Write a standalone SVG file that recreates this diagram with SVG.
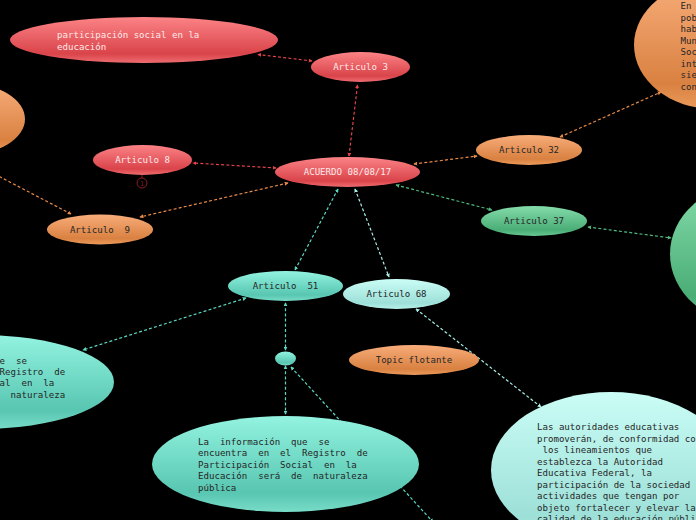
<svg xmlns="http://www.w3.org/2000/svg" width="696" height="520" viewBox="0 0 696 520">
<defs>
<linearGradient id="gRed" x1="0" y1="0" x2="0" y2="1">
<stop offset="0" stop-color="#fb8386"/><stop offset="0.8" stop-color="#d9444a"/><stop offset="1" stop-color="#ef6d71"/>
</linearGradient>
<linearGradient id="gOra" x1="0" y1="0" x2="0" y2="1">
<stop offset="0" stop-color="#f8ad7a"/><stop offset="0.8" stop-color="#d98141"/><stop offset="1" stop-color="#eb9a5c"/>
</linearGradient>
<linearGradient id="gGrn" x1="0" y1="0" x2="0" y2="1">
<stop offset="0" stop-color="#84dcaa"/><stop offset="0.8" stop-color="#4aad76"/><stop offset="1" stop-color="#68c891"/>
</linearGradient>
<linearGradient id="gTeal" x1="0" y1="0" x2="0" y2="1">
<stop offset="0" stop-color="#92f3e0"/><stop offset="0.8" stop-color="#58c6b1"/><stop offset="1" stop-color="#78dcc8"/>
</linearGradient>
<linearGradient id="gCyan" x1="0" y1="0" x2="0" y2="1">
<stop offset="0" stop-color="#cafdf6"/><stop offset="0.8" stop-color="#9de0d8"/><stop offset="1" stop-color="#b6f1ea"/>
</linearGradient>
<marker id="mRed" viewBox="0 0 6 6" refX="5" refY="3" markerWidth="4" markerHeight="4" markerUnits="userSpaceOnUse" orient="auto-start-reverse"><path d="M0,0 L6,3 L0,6 z" fill="#e4434b"/></marker>
<marker id="mOra" viewBox="0 0 6 6" refX="5" refY="3" markerWidth="4" markerHeight="4" markerUnits="userSpaceOnUse" orient="auto-start-reverse"><path d="M0,0 L6,3 L0,6 z" fill="#e88a45"/></marker>
<marker id="mGrn" viewBox="0 0 6 6" refX="5" refY="3" markerWidth="4" markerHeight="4" markerUnits="userSpaceOnUse" orient="auto-start-reverse"><path d="M0,0 L6,3 L0,6 z" fill="#4dbb80"/></marker>
<marker id="mTeal" viewBox="0 0 6 6" refX="5" refY="3" markerWidth="4" markerHeight="4" markerUnits="userSpaceOnUse" orient="auto-start-reverse"><path d="M0,0 L6,3 L0,6 z" fill="#5cd8c2"/></marker>
<marker id="mCyan" viewBox="0 0 6 6" refX="5" refY="3" markerWidth="4" markerHeight="4" markerUnits="userSpaceOnUse" orient="auto-start-reverse"><path d="M0,0 L6,3 L0,6 z" fill="#a8efe7"/></marker>
</defs>
<style>
text{font-family:"DejaVu Sans Mono","Liberation Mono",monospace;font-size:9.1px;white-space:pre;fill:#262626}
.lt{fill:#ffe9e9}
.c{text-anchor:middle}
.e{fill:none;stroke-width:1.2;stroke-dasharray:3 2.2}
.er{stroke:#e4434b;marker-start:url(#mRed);marker-end:url(#mRed)}
.eo{stroke:#e88a45;marker-start:url(#mOra);marker-end:url(#mOra)}
.eg{stroke:#4dbb80;marker-start:url(#mGrn);marker-end:url(#mGrn)}
.et{stroke:#5cd8c2;marker-start:url(#mTeal);marker-end:url(#mTeal)}
.ec{stroke:#a8efe7;marker-start:url(#mCyan);marker-end:url(#mCyan)}
</style>
<rect width="696" height="520" fill="#000"/>
<g id="connectors">
<line class="e er" x1="349" y1="156" x2="357.5" y2="85"/>
<line class="e er" x1="312" y1="61" x2="258" y2="54.5"/>
<line class="e er" x1="276" y1="168" x2="193" y2="163"/>
<line class="e eo" x1="288" y1="183" x2="140" y2="217"/>
<line class="e eo" x1="71" y1="214" x2="-40" y2="156"/>
<line class="e eo" x1="414" y1="164" x2="477" y2="156"/>
<line class="e eo" x1="560" y1="137" x2="661" y2="92"/>
<line class="e eg" x1="396" y1="185" x2="492" y2="210"/>
<line class="e eg" x1="588" y1="227" x2="671" y2="238"/>
<line class="e et" x1="338" y1="189" x2="295" y2="270"/>
<line class="e ec" x1="355" y1="189" x2="389" y2="277"/>
<line class="e et" x1="246" y1="298" x2="83" y2="350"/>
<line class="e et" x1="285.5" y1="303" x2="285.5" y2="350"/>
<line class="e et" x1="285.5" y1="366" x2="285.5" y2="414"/>
<line class="e et" x1="291" y1="367" x2="433" y2="522"/>
<line class="e ec" x1="416" y1="309" x2="541" y2="407"/>
</g>
<g id="n-participacion">
<ellipse cx="144" cy="40" rx="134" ry="23" fill="url(#gRed)"/>
<text class="lt" x="57" y="38">participación social en la</text>
<text class="lt" x="57" y="50">educación</text>
</g>
<g id="n-articulo3">
<ellipse cx="360.5" cy="67" rx="49.5" ry="15" fill="url(#gRed)"/>
<text class="lt c" x="360.5" y="70">Articulo 3</text>
</g>
<g id="n-articulo8">
<ellipse cx="142.5" cy="160" rx="49.5" ry="15" fill="url(#gRed)"/>
<text class="lt c" x="142.5" y="163">Articulo 8</text>
<line x1="142" y1="175" x2="142" y2="178" stroke="#8c1d22" stroke-width="1"/>
<circle cx="142" cy="183" r="5" fill="none" stroke="#8c1d22" stroke-width="1"/>
<text x="142" y="185.5" class="c" style="font-size:6.5px;fill:#8c1d22">1</text>
</g>
<g id="n-acuerdo">
<ellipse cx="347.5" cy="172" rx="72.5" ry="15" fill="url(#gRed)"/>
<text class="lt c" x="347.5" y="175">ACUERDO 08/08/17</text>
</g>
<g id="n-left-orange">
<ellipse cx="-35" cy="119" rx="60" ry="36" fill="url(#gOra)"/>
</g>
<g id="n-articulo9">
<ellipse cx="100" cy="229.5" rx="53" ry="15" fill="url(#gOra)"/>
<text class="c" x="100" y="232.5">Articulo  9</text>
</g>
<g id="n-articulo32">
<ellipse cx="529" cy="150" rx="53" ry="15" fill="url(#gOra)"/>
<text class="c" x="529" y="153">Articulo 32</text>
</g>
<g id="n-topright">
<ellipse cx="714" cy="45" rx="80" ry="64" fill="url(#gOra)"/>
<text x="680.5" y="9">En</text>
<text x="680.5" y="20.5">pob</text>
<text x="680.5" y="32">hab</text>
<text x="680.5" y="43.5">Mun</text>
<text x="680.5" y="55">Soc</text>
<text x="680.5" y="66.5">int</text>
<text x="680.5" y="78">sie</text>
<text x="680.5" y="89.5">con</text>
</g>
<g id="n-articulo37">
<ellipse cx="534" cy="221" rx="53" ry="15" fill="url(#gGrn)"/>
<text class="c" x="534" y="224">Articulo 37</text>
</g>
<g id="n-right-green">
<ellipse cx="750" cy="254" rx="80" ry="70" fill="url(#gGrn)"/>
</g>
<g id="n-articulo51">
<ellipse cx="285.5" cy="286" rx="57.5" ry="15" fill="url(#gTeal)"/>
<text class="c" x="285.5" y="289">Articulo  51</text>
</g>
<g id="n-articulo68">
<ellipse cx="396.5" cy="294" rx="53.5" ry="15" fill="url(#gCyan)"/>
<text class="c" x="396.5" y="297">Articulo 68</text>
</g>
<g id="n-left-teal">
<ellipse cx="-20" cy="382" rx="134" ry="47" fill="url(#gTeal)"/>
<text x="-104.5" y="363.5">La  información  que  se</text>
<text x="-104.5" y="375">encuentra  en  el  Registro  de</text>
<text x="-104.5" y="386.4">Participación  Social  en  la</text>
<text x="-104.5" y="397.8">Educación  será  de  naturaleza</text>
<text x="-104.5" y="409.2">pública</text>
</g>
<g id="n-small">
<ellipse cx="285.5" cy="358.5" rx="10.5" ry="7" fill="url(#gTeal)"/>
</g>
<g id="n-topic-flotante">
<ellipse cx="414" cy="360" rx="65" ry="15" fill="url(#gOra)"/>
<text class="c" x="414" y="363">Topic flotante</text>
</g>
<g id="n-bottom-teal">
<ellipse cx="285.5" cy="464" rx="133.5" ry="48" fill="url(#gTeal)"/>
<text x="198" y="445">La  información  que  se</text>
<text x="198" y="456.4">encuentra  en  el  Registro  de</text>
<text x="198" y="467.8">Participación  Social  en  la</text>
<text x="198" y="479.2">Educación  será  de  naturaleza</text>
<text x="198" y="490.6">pública</text>
</g>
<g id="n-bottom-right">
<ellipse cx="611" cy="470" rx="120" ry="78" fill="url(#gCyan)"/>
<text x="537" y="430">Las autoridades educativas</text>
<text x="537" y="441.5">promoverán, de conformidad con</text>
<text x="537" y="453"> los lineamientos que</text>
<text x="537" y="464.5">establezca la Autoridad</text>
<text x="537" y="476">Educativa Federal, la</text>
<text x="537" y="487.5">participación de la sociedad en</text>
<text x="537" y="499">actividades que tengan por</text>
<text x="537" y="510.5">objeto fortalecer y elevar la</text>
<text x="537" y="522">calidad de la educación pública</text>
</g>
</svg>
